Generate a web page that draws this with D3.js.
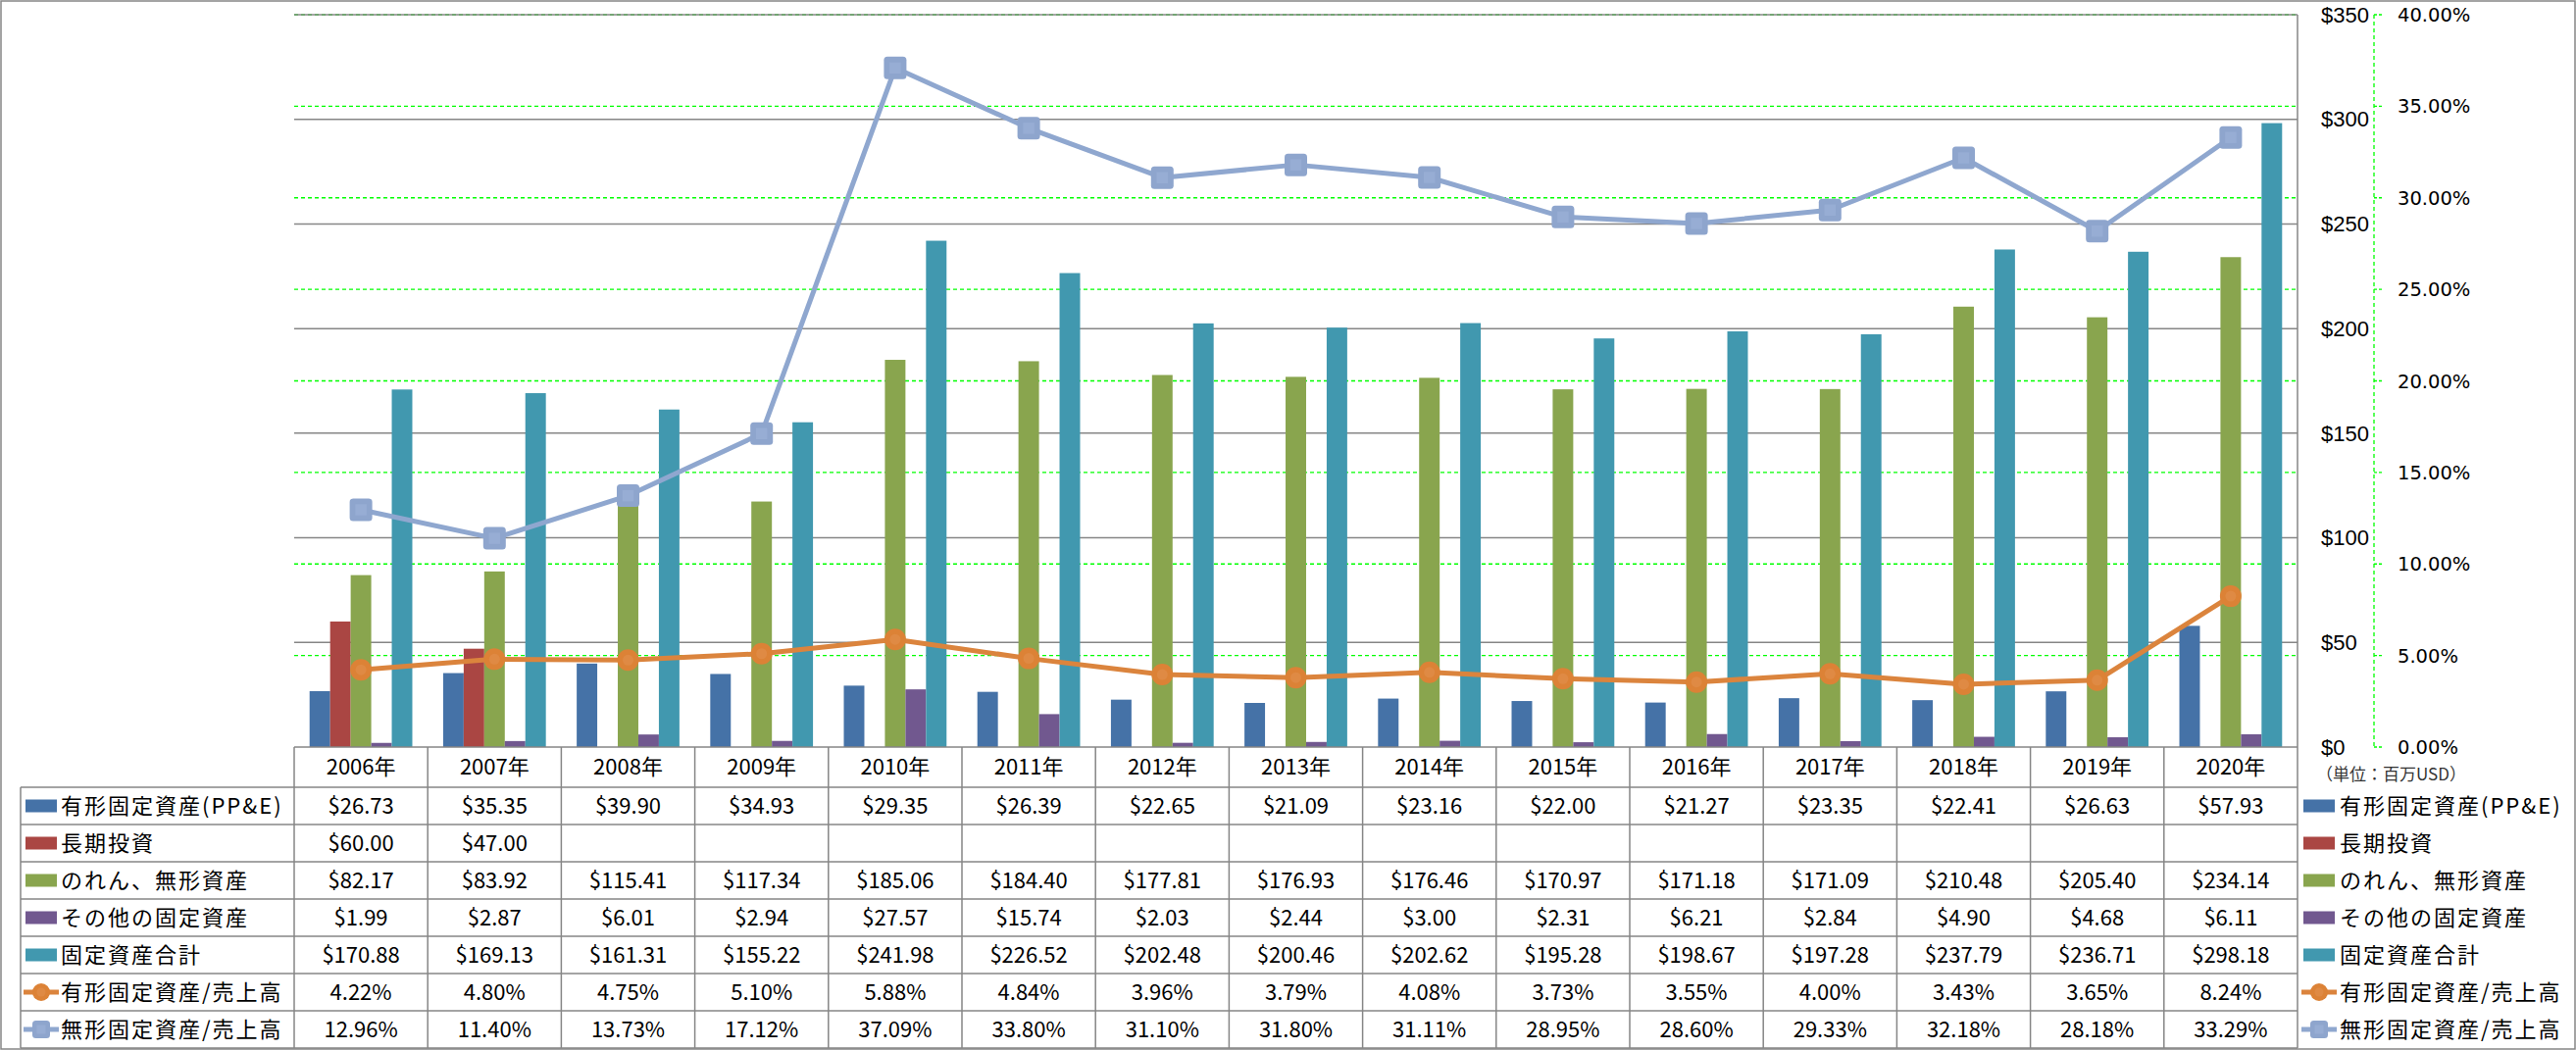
<!DOCTYPE html>
<html><head><meta charset="utf-8">
<script src="https://cdn.jsdelivr.net/npm/d3@7"></script>
<style>
html,body{margin:0;padding:0;background:#fff;}
svg{display:block;font-family:"Noto Sans CJK JP","Noto Sans",sans-serif;}
</style></head>
<body><svg id="c" width="2627" height="1071"></svg>
<script>
// ---- data ----
const years = ["2006年","2007年","2008年","2009年","2010年","2011年","2012年","2013年","2014年","2015年","2016年","2017年","2018年","2019年","2020年"];
const ppe = [26.73,35.35,39.90,34.93,29.35,26.39,22.65,21.09,23.16,22.00,21.27,23.35,22.41,26.63,57.93];
const longInv = [60.00,47.00,null,null,null,null,null,null,null,null,null,null,null,null,null];
const goodwill = [82.17,83.92,115.41,117.34,185.06,184.40,177.81,176.93,176.46,170.97,171.18,171.09,210.48,205.40,234.14];
const otherFixed = [1.99,2.87,6.01,2.94,27.57,15.74,2.03,2.44,3.00,2.31,6.21,2.84,4.90,4.68,6.11];
const totalFixed = [170.88,169.13,161.31,155.22,241.98,226.52,202.48,200.46,202.62,195.28,198.67,197.28,237.79,236.71,298.18];
const ppeRatio = [4.22,4.80,4.75,5.10,5.88,4.84,3.96,3.79,4.08,3.73,3.55,4.00,3.43,3.65,8.24];
const intangRatio = [12.96,11.40,13.73,17.12,37.09,33.80,31.10,31.80,31.11,28.95,28.60,29.33,32.18,28.18,33.29];
const leftTicks = [0,50,100,150,200,250,300,350];
const rightTicks = [0,5,10,15,20,25,30,35,40];
const seriesNames = ["有形固定資産(PP&E)","長期投資","のれん、無形資産","その他の固定資産","固定資産合計","有形固定資産/売上高","無形固定資産/売上高"];

// ---- styles ----
const barColors = ["#4572A7","#AA4643","#89A54E","#71588F","#4198AF"];
const orange = "#DB843D", lblue = "#8FA7CF";
const gridGray = "#868686";
const W = 2627, H = 1071;
const px0 = 300, px1 = 2343, pyTop = 15, pyBase = 762;
const rowH = 38, headerBottom = 803, tableLeft = 21;
const fs = 22;

const svg = d3.select("#c");
svg.append("rect").attr("x",0).attr("y",0).attr("width",W).attr("height",H).attr("fill","#fff");

const x = d3.scaleBand().domain(years).range([px0, px1]).padding(0);
const bw = x.bandwidth()/6.5;
const xInner = d3.scaleBand().domain(d3.range(5)).range([0.75*bw, x.bandwidth()-0.75*bw]).padding(0);
const yL = d3.scaleLinear().domain([0,350]).range([pyBase, pyTop]);
const yR = d3.scaleLinear().domain([0,40]).range([pyBase, pyTop]);

// green dashed gridlines (secondary)
svg.append("g").selectAll("line").data(rightTicks.filter(d=>d>0)).join("line")
  .attr("x1",px0).attr("x2",px1).attr("y1",d=>yR(d)).attr("y2",d=>yR(d))
  .attr("stroke","#00FF00").attr("stroke-width",1.3).attr("stroke-dasharray","4,3");
// gray gridlines (primary)
svg.append("g").selectAll("line").data(leftTicks.filter(d=>d>0)).join("line")
  .attr("x1",px0).attr("x2",px1).attr("y1",d=>yL(d)).attr("y2",d=>yL(d))
  .attr("stroke",gridGray).attr("stroke-width",1.5);

// bars
const barSeries = [ppe,longInv,goodwill,otherFixed,totalFixed];
barSeries.forEach((arr,si)=>{
  svg.append("g").selectAll("rect").data(arr.map((v,i)=>({v,i})).filter(d=>d.v!=null)).join("rect")
    .attr("x",d=>x(years[d.i])+xInner(si)).attr("width",xInner.bandwidth())
    .attr("y",d=>yL(d.v)).attr("height",d=>pyBase-yL(d.v))
    .attr("fill",barColors[si]);
});

// lines
const cx = i => x(years[i]) + x.bandwidth()/2;
const lineGen = d3.line().x((d,i)=>cx(i)).y(d=>yR(d));
svg.append("path").attr("d",lineGen(intangRatio)).attr("fill","none").attr("stroke",lblue).attr("stroke-width",5).attr("stroke-linejoin","round");
svg.append("path").attr("d",lineGen(ppeRatio)).attr("fill","none").attr("stroke",orange).attr("stroke-width",5).attr("stroke-linejoin","round");
function squareMarker(g, cxv, cyv, s){
  g.append("rect").attr("x",cxv-s/2).attr("y",cyv-s/2).attr("width",s).attr("height",s).attr("rx",3.5)
    .attr("fill","#8EA5CD");
  g.append("rect").attr("x",cxv-s/4).attr("y",cyv-s/4).attr("width",s/2).attr("height",s/2)
    .attr("fill","#97ADD4");
}
function circleMarker(g, cxv, cyv, r){
  g.append("circle").attr("cx",cxv).attr("cy",cyv).attr("r",r).attr("fill","#DC8236");
  g.append("circle").attr("cx",cxv).attr("cy",cyv).attr("r",r*0.5).attr("fill","#DF8A44");
}
const gm = svg.append("g");
intangRatio.forEach((v,i)=>squareMarker(gm, cx(i), yR(v), 23));
ppeRatio.forEach((v,i)=>circleMarker(gm, cx(i), yR(v), 11));

// axis line & plot right border
svg.append("line").attr("x1",px0).attr("x2",px1).attr("y1",pyBase).attr("y2",pyBase).attr("stroke",gridGray).attr("stroke-width",1.5);
svg.append("line").attr("x1",px1).attr("x2",px1).attr("y1",pyTop).attr("y2",H-2).attr("stroke",gridGray).attr("stroke-width",1.5);

// primary axis labels ($)
svg.append("g").selectAll("text").data(leftTicks).join("text")
  .attr("x",2367).attr("y",d=>yL(d)).attr("dy","0.35em")
  .attr("font-family","'Liberation Sans',sans-serif").attr("font-size",22).attr("fill","#000")
  .text(d=>"$"+d);
// secondary axis (green dashed)
const ax = 2421;
svg.append("line").attr("x1",ax).attr("x2",ax).attr("y1",pyTop).attr("y2",pyBase)
  .attr("stroke","#00FF00").attr("stroke-width",1.3).attr("stroke-dasharray","4,3");
svg.append("g").selectAll("line").data(rightTicks).join("line")
  .attr("x1",ax).attr("x2",ax+8).attr("y1",d=>yR(d)).attr("y2",d=>yR(d))
  .attr("stroke","#00FF00").attr("stroke-width",1.3).attr("stroke-dasharray","3,2");
svg.append("g").selectAll("text").data(rightTicks).join("text")
  .attr("x",2445).attr("y",d=>yR(d)).attr("dy","0.36em")
  .attr("font-family","'DejaVu Sans',sans-serif").attr("font-size",19.5).attr("fill","#000")
  .text(d=>d3.format(".2f")(d)+"%");
svg.append("text").attr("x",2362).attr("y",790).attr("dy","0.35em").attr("font-size",17).attr("fill","#333")
  .text("（単位：百万USD）");

// ---- data table ----
const tg = svg.append("g");
const tableBottom = headerBottom + rowH*7;
years.forEach((y,i)=>{
  tg.append("line").attr("x1",x(y)).attr("x2",x(y)).attr("y1",pyBase).attr("y2",tableBottom)
    .attr("stroke",gridGray).attr("stroke-width",1.5);
});
d3.range(8).forEach(r=>{
  const yy = headerBottom + r*rowH;
  tg.append("line").attr("x1",tableLeft).attr("x2",px1).attr("y1",yy).attr("y2",yy)
    .attr("stroke",gridGray).attr("stroke-width",1.5);
});
tg.append("line").attr("x1",tableLeft).attr("x2",tableLeft).attr("y1",headerBottom).attr("y2",tableBottom)
  .attr("stroke",gridGray).attr("stroke-width",1.5);
tg.selectAll("text.h").data(years).join("text").attr("class","h")
  .attr("x",d=>x(d)+x.bandwidth()/2).attr("y",(pyBase+headerBottom)/2).attr("dy","0.35em")
  .attr("text-anchor","middle").attr("font-size",fs).text(d=>d);
const money = v => v==null ? "" : "$"+d3.format(".2f")(v);
const pct = v => d3.format(".2f")(v)+"%";
const rows = [
  {vals:ppe, f:money}, {vals:longInv, f:money}, {vals:goodwill, f:money},
  {vals:otherFixed, f:money}, {vals:totalFixed, f:money},
  {vals:ppeRatio, f:pct}, {vals:intangRatio, f:pct}
];
function legendKey(g, r, xk, yc, len){
  if (r < 5){
    g.append("rect").attr("x",xk).attr("y",yc-6.5).attr("width",len).attr("height",13).attr("fill",barColors[r]);
  } else {
    const col = r===5 ? orange : lblue;
    g.append("line").attr("x1",xk-2).attr("x2",xk+len+2).attr("y1",yc).attr("y2",yc).attr("stroke",col).attr("stroke-width",5);
    if (r===5) circleMarker(g, xk+len/2, yc, 9);
    else squareMarker(g, xk+len/2, yc, 18);
  }
}
rows.forEach((row,r)=>{
  const yc = headerBottom + r*rowH + rowH/2;
  row.vals.forEach((v,i)=>{
    tg.append("text").attr("x",cx(i)).attr("y",yc).attr("dy","0.35em").attr("text-anchor","middle")
      .attr("font-size",fs).text(row.f(v));
  });
  legendKey(tg, r, 26, yc, 32);
  tg.append("text").attr("x",62).attr("y",yc).attr("dy","0.35em").attr("font-size",fs)
    .attr("letter-spacing",2).text(seriesNames[r]);
  legendKey(tg, r, 2349, yc, 32);
  tg.append("text").attr("x",2386).attr("y",yc).attr("dy","0.35em").attr("font-size",fs)
    .attr("letter-spacing",2).text(seriesNames[r]);
});

// outer border
svg.append("rect").attr("x",1).attr("y",1).attr("width",W-2).attr("height",H-2)
  .attr("fill","none").attr("stroke",gridGray).attr("stroke-width",1.5);
</script></body></html>
